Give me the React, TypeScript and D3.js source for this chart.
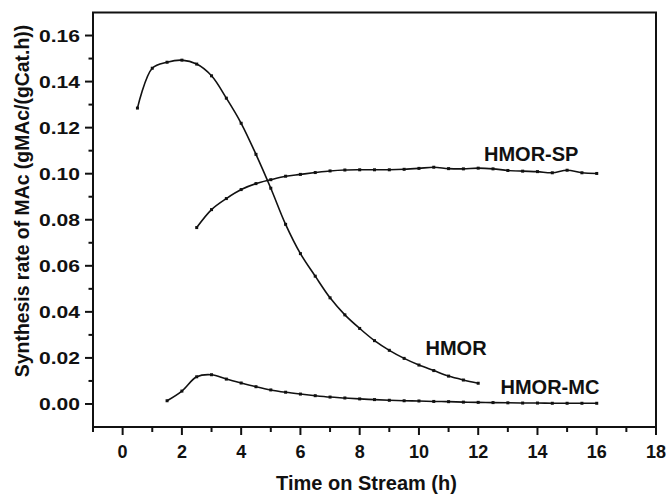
import React from "react";
import * as d3 from "d3";

const hmorX = [0.5, 1, 1.5, 2, 2.5, 3, 3.5, 4, 4.5, 5, 5.5, 6, 6.5, 7, 7.5, 8, 8.5, 9, 9.5, 10, 10.5, 11, 11.5, 12];
const hmorY = [0.1285, 0.1458, 0.1484, 0.1493, 0.1476, 0.1425, 0.1328, 0.1219, 0.1084, 0.0937, 0.078, 0.0653, 0.0555, 0.0461, 0.0387, 0.0328, 0.0275, 0.0233, 0.0198, 0.0169, 0.0145, 0.0121, 0.0104, 0.009];

const spX = [2.5, 3, 3.5, 4, 4.5, 5, 5.5, 6, 6.5, 7, 7.5, 8, 8.5, 9, 9.5, 10, 10.5, 11, 11.5, 12, 12.5, 13, 13.5, 14, 14.5, 15, 15.5, 16];
const spY = [0.0766, 0.0844, 0.0892, 0.0931, 0.0957, 0.0974, 0.0989, 0.0997, 0.1005, 0.1012, 0.1016, 0.1017, 0.1017, 0.1017, 0.1019, 0.1023, 0.1028, 0.1022, 0.1021, 0.1024, 0.1021, 0.1014, 0.1011, 0.1009, 0.1004, 0.1015, 0.1004, 0.1001];

const mcX = [1.5, 2, 2.5, 3, 3.5, 4, 4.5, 5, 5.5, 6, 6.5, 7, 7.5, 8, 8.5, 9, 9.5, 10, 10.5, 11, 11.5, 12, 12.5, 13, 13.5, 14, 14.5, 15, 15.5, 16];
const mcY = [0.0014, 0.0056, 0.0118, 0.0127, 0.0108, 0.0091, 0.0075, 0.0061, 0.0051, 0.0043, 0.0036, 0.003, 0.0026, 0.0022, 0.0019, 0.0016, 0.0014, 0.0013, 0.0011, 0.001, 0.0008, 0.0007, 0.0006, 0.0005, 0.0004, 0.0004, 0.0003, 0.0003, 0.0003, 0.0003];

const xMajor = [0, 2, 4, 6, 8, 10, 12, 14, 16, 18];
const xMinor = [-1, 1, 3, 5, 7, 9, 11, 13, 15, 17];
const yMajor = [0, 0.02, 0.04, 0.06, 0.08, 0.1, 0.12, 0.14, 0.16];
const yMinor = [0.01, 0.03, 0.05, 0.07, 0.09, 0.11, 0.13, 0.15];

const seriesLabels = ["HMOR-SP", "HMOR", "HMOR-MC"];
const xTitle = "Time on Stream (h)";
const yTitle = "Synthesis rate of MAc (gMAc/(gCat.h))";

const FONT = "'Liberation Sans', Arial, sans-serif";

export default function App() {
  const left = 93, right = 656, top = 12.5, bottom = 427;
  const x = d3.scaleLinear().domain([-1, 18]).range([left, right]);
  const y = d3.scaleLinear().domain([-0.01, 0.17]).range([bottom, top]);
  const line = d3
    .line<[number, number]>()
    .x((d) => x(d[0]))
    .y((d) => y(d[1]))
    .curve(d3.curveCatmullRom.alpha(0.5));

  const series = [
    { xs: hmorX, ys: hmorY },
    { xs: spX, ys: spY },
    { xs: mcX, ys: mcY },
  ];

  const labelPos = [
    { x: 484, y: 160.5 },
    { x: 425.5, y: 355 },
    { x: 500.5, y: 394 },
  ];

  return (
    <svg
      width={670}
      height={494}
      style={{ position: "absolute", left: 0, top: 0, background: "#fff" }}
      fontFamily={FONT}
      fontWeight="bold"
    >
      <rect x={0} y={0} width={670} height={494} fill="#fff" />
      <rect x={left} y={top} width={right - left} height={bottom - top} fill="none" stroke="#111" strokeWidth={2} />

      {xMajor.map((v) => (
        <g key={"xm" + v}>
          <line x1={x(v)} x2={x(v)} y1={bottom} y2={bottom + 8} stroke="#111" strokeWidth={2} />
          <text x={x(v)} y={458} textAnchor="middle" fontSize={18} fill="#111">
            {v}
          </text>
        </g>
      ))}
      {xMinor.map((v) => (
        <line key={"xn" + v} x1={x(v)} x2={x(v)} y1={bottom} y2={bottom + 5} stroke="#111" strokeWidth={2} />
      ))}

      {yMajor.map((v) => (
        <g key={"ym" + v}>
          <line x1={left - 8} x2={left} y1={y(v)} y2={y(v)} stroke="#111" strokeWidth={2} />
          <text
            x={80}
            y={y(v) + 6}
            textAnchor="end"
            fontSize={17}
            fill="#111"
            textLength={41}
            lengthAdjust="spacingAndGlyphs"
          >
            {v.toFixed(2)}
          </text>
        </g>
      ))}
      {yMinor.map((v) => (
        <line key={"yn" + v} x1={left - 4.5} x2={left} y1={y(v)} y2={y(v)} stroke="#111" strokeWidth={2} />
      ))}

      {series.map((s, i) => {
        const pts = s.xs.map((xv, j) => [xv, s.ys[j]] as [number, number]);
        return (
          <g key={"s" + i}>
            <path d={line(pts) || ""} fill="none" stroke="#111" strokeWidth={1.6} />
            {pts.map((p, j) => (
              <rect key={j} x={x(p[0]) - 1.5} y={y(p[1]) - 1.5} width={3} height={3} fill="#111" />
            ))}
          </g>
        );
      })}

      {seriesLabels.map((t, i) => (
        <text key={t} x={labelPos[i].x} y={labelPos[i].y} fontSize={20} fill="#111">
          {t}
        </text>
      ))}

      <text x={366.5} y={490} textAnchor="middle" fontSize={20} fill="#111">
        {xTitle}
      </text>
      <text
        transform="translate(29,201) rotate(-90)"
        textAnchor="middle"
        fontSize={19.4}
        fill="#111"
      >
        {yTitle}
      </text>
    </svg>
  );
}
